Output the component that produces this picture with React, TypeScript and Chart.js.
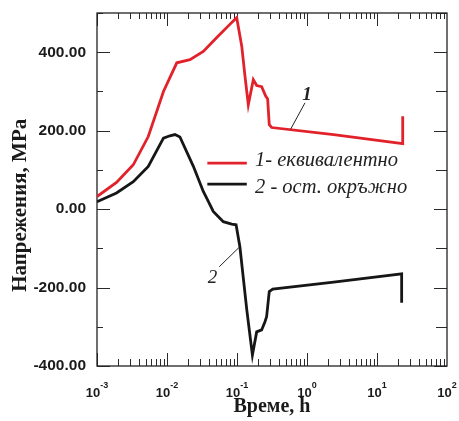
import React, { useEffect, useRef } from 'react';
import { Chart, registerables } from 'chart.js';

Chart.register(...registerables);

// ---- data (time in hours, stress in MPa) ----
const redTime = [0.001, 0.0019, 0.0033, 0.0054, 0.0089, 0.0138, 0.0213, 0.033, 0.051, 0.079, 0.099, 0.117, 0.13, 0.145, 0.171, 0.191, 0.225, 0.257, 0.274, 0.289, 0.313, 2.4, 23.3, 23.3];
const redStress = [32, 68, 113, 185, 300, 373, 381, 402, 437, 471, 488, 415, 339, 266, 330, 315, 312, 288, 281, 215, 208, 190, 167, 237];

const blackTime = [0.001, 0.0019, 0.0033, 0.0054, 0.0089, 0.011, 0.013, 0.0153, 0.0238, 0.033, 0.0386, 0.0458, 0.0637, 0.084, 0.097, 0.11, 0.138, 0.166, 0.191, 0.225, 0.251, 0.265, 0.289, 0.324, 2.4, 22.5, 22.5];
const blackStress = [19, 41, 70, 109, 181, 187, 190, 184, 109, 45, 21, -6, -32, -38, -40, -96, -257, -372, -313, -308, -287, -274, -210, -204, -186, -165, -239];

const seriesLabels = ['1- еквивалентно', '2 - ост. окръжно'];
const seriesColors = ['#e2222b', '#161616'];
const xTitle = 'Време, h';
const yTitle = 'Напрежения, MPa';
const xDecades = [-3, -2, -1, 0, 1, 2];
const yMin = -400;
const yMax = 500;
const yStep = 100;
const xMin = 0.001;
const xMax = 100;

// annotation anchors in data units
const legendLineTimes = [0.0377, 0.138];
const legendTextTime = 0.181;
const legendLineStress = [117.5, 63.9];
const legendTextStress = [108.8, 40.9];
const note1 = { text: '1', t: 1.0, s: 279, from: [0.936, 271], to: [0.585, 204] };
const note2 = { text: '2', t: 0.0447, s: -189, from: [0.0558, -147], to: [0.108, -97] };
const yTitleStartStress = -211;

const SANS = '"Liberation Sans", Arial, Helvetica, sans-serif';
const SERIF = '"Liberation Serif", "Times New Roman", serif';

const decorPlugin = {
  id: 'decor',
  beforeDatasetsDraw(chart: any) {
    const { ctx, chartArea } = chart;
    const xs = chart.scales.x;
    const ys = chart.scales.y;
    const { left, right, top, bottom } = chartArea;
    ctx.save();
    ctx.strokeStyle = '#2a2a2a';
    ctx.lineWidth = 1;
    // x ticks (bottom & top)
    for (let e = -3; e < 2; e++) {
      for (let m = 1; m <= 9; m++) {
        const v = m * Math.pow(10, e);
        const px = Math.round(xs.getPixelForValue(v)) + 0.5;
        const major = m === 1;
        ctx.beginPath();
        ctx.moveTo(px, bottom);
        ctx.lineTo(px, bottom - (major ? 13 : 7));
        ctx.moveTo(px, top);
        ctx.lineTo(px, top + (major ? 13 : 6));
        ctx.stroke();
      }
    }
    // y ticks (left & right)
    for (let v = yMin; v <= yMax; v += yStep) {
      const py = Math.round(ys.getPixelForValue(v)) + 0.5;
      const major = v % 200 === 0;
      ctx.beginPath();
      ctx.moveTo(left, py);
      ctx.lineTo(left + (major ? 13 : 6), py);
      ctx.moveTo(right, py);
      ctx.lineTo(right - (major ? 13 : 11), py);
      ctx.stroke();
    }
    // frame
    ctx.lineWidth = 1.3;
    ctx.strokeStyle = '#222';
    ctx.strokeRect(left, top, right - left, bottom - top);
    ctx.restore();
  },
  afterDatasetsDraw(chart: any) {
    const { ctx, chartArea } = chart;
    const xs = chart.scales.x;
    const ys = chart.scales.y;
    ctx.save();
    // x tick labels with superscript exponents
    ctx.fillStyle = '#1a1a1a';
    ctx.textBaseline = 'alphabetic';
    ctx.textAlign = 'left';
    for (const e of xDecades) {
      const px = xs.getPixelForValue(Math.pow(10, e));
      const base = '10';
      const exp = String(e);
      ctx.font = 'bold 13px ' + SANS;
      const bw = ctx.measureText(base).width;
      ctx.font = 'bold 9px ' + SANS;
      const ew = ctx.measureText(exp).width;
      const x0 = px - (bw + ew) / 2;
      ctx.font = 'bold 13px ' + SANS;
      ctx.fillText(base, x0, chartArea.bottom + 30.5);
      ctx.font = 'bold 9px ' + SANS;
      ctx.fillText(exp, x0 + bw, chartArea.bottom + 22);
    }
    // y title (rotated, anchored at its first letter)
    ctx.save();
    ctx.translate(21, ys.getPixelForValue(yTitleStartStress));
    ctx.rotate(-Math.PI / 2);
    ctx.font = 'bold 21px ' + SERIF;
    ctx.textAlign = 'left';
    ctx.textBaseline = 'middle';
    ctx.fillText(yTitle, 0, 0);
    ctx.restore();

    // legend
    ctx.lineWidth = 2.8;
    for (let i = 0; i < seriesLabels.length; i++) {
      const ly = ys.getPixelForValue(legendLineStress[i]);
      ctx.strokeStyle = seriesColors[i];
      ctx.beginPath();
      ctx.moveTo(xs.getPixelForValue(legendLineTimes[0]), ly);
      ctx.lineTo(xs.getPixelForValue(legendLineTimes[1]), ly);
      ctx.stroke();
      ctx.fillStyle = '#222';
      ctx.font = 'italic 20.5px ' + SERIF;
      ctx.textAlign = 'left';
      ctx.textBaseline = 'alphabetic';
      ctx.fillText(seriesLabels[i], xs.getPixelForValue(legendTextTime), ys.getPixelForValue(legendTextStress[i]));
    }

    // callouts
    ctx.lineWidth = 1;
    ctx.strokeStyle = '#222';
    for (const n of [note1, note2]) {
      ctx.beginPath();
      ctx.moveTo(xs.getPixelForValue(n.from[0]), ys.getPixelForValue(n.from[1]));
      ctx.lineTo(xs.getPixelForValue(n.to[0]), ys.getPixelForValue(n.to[1]));
      ctx.stroke();
      ctx.fillStyle = '#222';
      ctx.font = (n === note1 ? 'italic bold 19px ' : 'italic 19px ') + SERIF;
      ctx.textAlign = 'center';
      ctx.textBaseline = 'alphabetic';
      ctx.fillText(n.text, xs.getPixelForValue(n.t), ys.getPixelForValue(n.s));
    }
    ctx.restore();
  },
};

export default function App() {
  const canvasRef = useRef<HTMLCanvasElement | null>(null);

  useEffect(() => {
    document.body.style.margin = '0';
    const canvas = canvasRef.current;
    if (!canvas) return;
    const toPoints = (t: number[], s: number[]) => t.map((x, i) => ({ x, y: s[i] }));
    const chart = new Chart(canvas, {
      type: 'line',
      data: {
        datasets: [
          {
            label: seriesLabels[0],
            data: toPoints(redTime, redStress),
            borderColor: seriesColors[0],
            borderWidth: 2.8,
            pointRadius: 0,
            tension: 0,
            fill: false,
          },
          {
            label: seriesLabels[1],
            data: toPoints(blackTime, blackStress),
            borderColor: seriesColors[1],
            borderWidth: 2.8,
            pointRadius: 0,
            tension: 0,
            fill: false,
          },
        ],
      },
      options: {
        animation: false,
        responsive: false,
        devicePixelRatio: 1,
        layout: { padding: { top: 13, right: 12, left: 0, bottom: 0 } },
        plugins: {
          legend: { display: false },
          tooltip: { enabled: false },
        },
        scales: {
          x: {
            type: 'logarithmic',
            min: xMin,
            max: xMax,
            grid: { display: false, drawTicks: false },
            border: { display: false },
            ticks: { display: false },
            title: {
              display: true,
              text: xTitle,
              color: '#1a1a1a',
              font: { family: SERIF, size: 20, weight: 'bold' },
              padding: { top: 0, bottom: 2 },
            },
            afterFit: (s: any) => {
              s.height = 55;
              s.paddingLeft = 0;
              s.paddingRight = 0;
            },
          },
          y: {
            type: 'linear',
            min: yMin,
            max: yMax,
            grid: { display: false, drawTicks: false },
            border: { display: false },
            ticks: {
              stepSize: yStep,
              padding: 11,
              color: '#1a1a1a',
              font: { family: SANS, size: 15.5, weight: 'bold' },
              callback: (v: any) => (Number(v) % 200 === 0 ? Number(v).toFixed(2) : ''),
            },
            afterFit: (s: any) => {
              s.width = 97;
              s.paddingTop = 0;
              s.paddingBottom = 0;
            },
          },
        },
      },
      plugins: [decorPlugin],
    } as any);
    return () => chart.destroy();
  }, []);

  return (
    <div style={{ width: 459, height: 421, background: '#fff' }}>
      <canvas ref={canvasRef} width={459} height={421} />
    </div>
  );
}
